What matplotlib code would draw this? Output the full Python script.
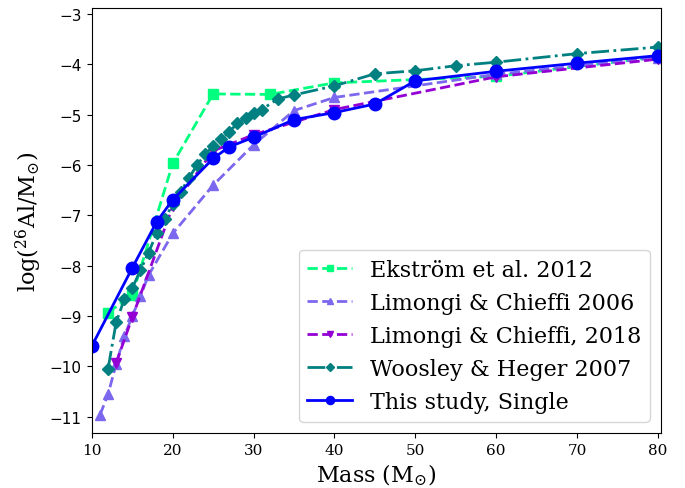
import matplotlib
matplotlib.use("Agg")
import matplotlib.pyplot as plt

plt.rcParams["mathtext.fontset"] = "dejavuserif"

# Ekstrom et al. 2012
ek_mass = [12, 15, 20, 25, 32, 40, 60, 85]
ek_al = [-8.93, -8.58, -5.97, -4.59, -4.60, -4.37, -4.24, -3.76]

# Limongi & Chieffi 2006
lc06_mass = [11, 12, 13, 14, 15, 16, 17, 20, 25, 30, 35, 40, 60, 80]
lc06_al = [-10.96, -10.55, -9.95, -9.40, -9.00, -8.60, -8.19, -7.36, -6.40, -5.60,
           -4.92, -4.66, -4.20, -3.87]

# Limongi & Chieffi 2018
lc18_mass = [13, 15, 20, 25, 30, 40, 60, 80]
lc18_al = [-9.93, -9.02, -6.82, -5.72, -5.40, -4.90, -4.25, -3.90]

# Woosley & Heger 2007
wh_mass = [12, 13, 14, 15, 16, 17, 18, 19, 20, 21, 22, 23, 24, 25, 26, 27, 28, 29,
           30, 31, 33, 35, 40, 45, 50, 55, 60, 70, 80]
wh_al = [-10.04, -9.12, -8.67, -8.44, -8.09, -7.74, -7.36, -7.08, -6.77, -6.53,
         -6.26, -6.00, -5.79, -5.62, -5.49, -5.34, -5.17, -5.07, -4.97, -4.90,
         -4.69, -4.61, -4.43, -4.19, -4.13, -4.03, -3.96, -3.79, -3.66]

# This study, single stars
ts_mass = [10, 15, 18, 20, 25, 27, 30, 35, 40, 45, 50, 60, 70, 80]
ts_al = [-9.59, -8.04, -7.13, -6.69, -5.87, -5.64, -5.45, -5.10, -4.96, -4.79,
         -4.33, -4.14, -3.98, -3.83]

fig, ax = plt.subplots(figsize=(6.85, 4.89), dpi=100)

ax.plot(ek_mass, ek_al, "--s", color="springgreen", lw=2, ms=7,
        label="Ekstr\u00f6m et al. 2012")
ax.plot(lc06_mass, lc06_al, "--^", color="mediumslateblue", lw=2, ms=7,
        label="Limongi & Chieffi 2006")
ax.plot(lc18_mass, lc18_al, "--v", color="darkviolet", lw=2, ms=7,
        label="Limongi & Chieffi, 2018")
ax.plot(wh_mass, wh_al, "-.D", color="teal", lw=2, ms=6.5,
        label="Woosley & Heger 2007")
ax.plot(ts_mass, ts_al, "-o", color="blue", lw=2, ms=9,
        label="This study, Single")

ax.set_xlim(9.95, 80.4)
ax.set_ylim(-11.32, -2.89)
ax.set_xlabel(r"Mass (M$_{\odot}$)", family="DejaVu Serif", fontsize=16)
ax.set_ylabel(r"log($^{26}$Al/M$_{\odot}$)", family="DejaVu Serif", fontsize=16)

for lab in ax.get_xticklabels():
    lab.set_family("DejaVu Serif")
ax.tick_params(labelsize=11)

leg = ax.legend(loc="lower right", prop={"family": "DejaVu Serif", "size": 16},
                markerscale=0.65)

plt.subplots_adjust(left=0.1336, right=0.965, top=0.981, bottom=0.1125)
plt.savefig("out.png", dpi=100)
